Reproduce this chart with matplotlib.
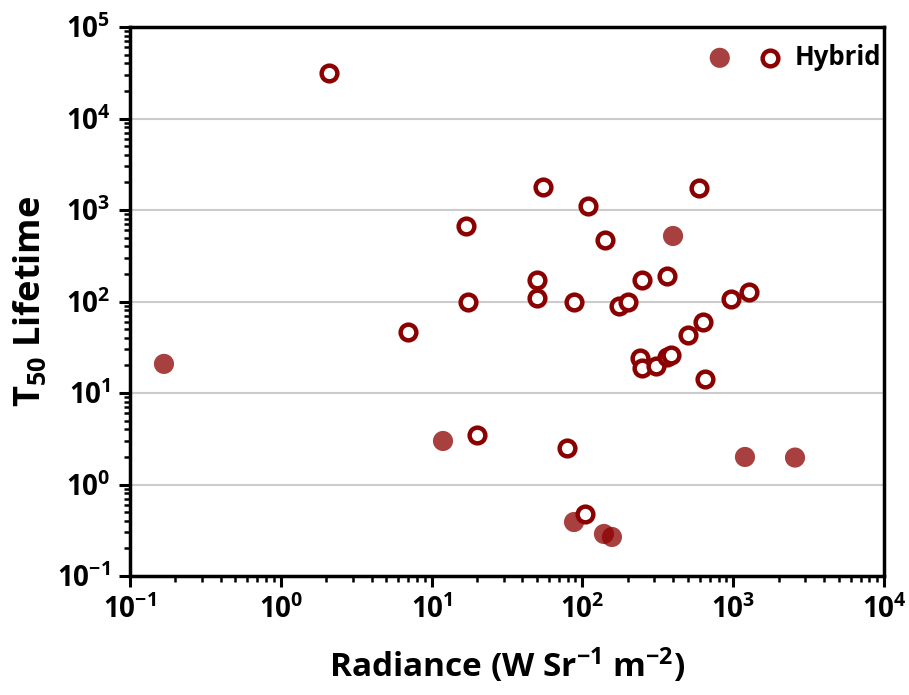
import matplotlib
matplotlib.use("Agg")
import matplotlib.pyplot as plt
from matplotlib.legend_handler import HandlerTuple
from matplotlib.ticker import LogLocator, NullFormatter

plt.rcParams['font.family'] = ['Open Sans', 'DejaVu Sans']
plt.rcParams['font.weight'] = 'bold'
plt.rcParams['mathtext.fontset'] = 'custom'
plt.rcParams['mathtext.rm'] = 'Open Sans:bold'
plt.rcParams['mathtext.bf'] = 'Open Sans:bold'
plt.rcParams['mathtext.it'] = 'Open Sans:bold'
plt.rcParams['mathtext.default'] = 'bf'

# Hollow markers (Hybrid)
hollow_x = [2.09, 54.8, 109, 593, 16.9, 141, 50, 50, 17.4, 88, 175, 200, 248, 364,
            966, 1273, 6.97, 631, 501, 241, 248, 307, 366, 386, 650, 20, 79, 104]
hollow_y = [31400, 1780, 1107, 1738, 668, 470, 172, 109, 100, 100, 89, 100, 172, 190,
            106, 127, 46, 59.7, 43, 24, 18.8, 19.7, 25, 26, 14.3, 3.5, 2.5, 0.48]

# Filled markers
filled_x = [0.168, 11.9, 399, 1197, 2570, 88, 139, 157]
filled_y = [20.8, 2.99, 520, 2.0, 1.97, 0.389, 0.288, 0.267]

legend_label = "Hybrid"
xlabel = "Radiance (W Sr$^{-1}$ m$^{-2}$)"
ylabel = "T$_{50}$ Lifetime"

red = '#8B0000'

fig = plt.figure(figsize=(9.09, 6.95), dpi=100)
ax = fig.add_axes([130/909, 1-576/695, (884-130)/909, (576-27)/695])

ax.set_xscale('log')
ax.set_yscale('log')
ax.set_xlim(0.1, 1e4)
ax.set_ylim(0.1, 1e5)

ax.grid(True, axis='y', which='major', color='#cccccc', linewidth=1.5, zorder=0)
ax.set_axisbelow(True)

f = ax.scatter(filled_x, filled_y, s=14.5**2, color=red, alpha=0.75,
               edgecolors='none', zorder=3)
h = ax.scatter(hollow_x, hollow_y, s=11.3**2, facecolors='white', edgecolors=red,
               linewidths=3.2, zorder=4)

leg = ax.legend([(f, h)], [legend_label], handler_map={tuple: HandlerTuple(ndivide=None, pad=1.1)},
                loc='upper right', bbox_to_anchor=(1.0, 0.9745), frameon=False,
                handlelength=2.8, borderaxespad=0.0, borderpad=0.1, handletextpad=0.55,
                prop={'family': 'Open Sans', 'weight': 'bold', 'size': 18.5})

for s in ax.spines.values():
    s.set_linewidth(2.5)
    s.set_color('black')

ax.xaxis.set_major_locator(LogLocator(base=10, numticks=10))
ax.xaxis.set_minor_locator(LogLocator(base=10, subs=range(2, 10), numticks=100))
ax.yaxis.set_major_locator(LogLocator(base=10, numticks=10))
ax.yaxis.set_minor_locator(LogLocator(base=10, subs=range(2, 10), numticks=100))
ax.xaxis.set_minor_formatter(NullFormatter())
ax.yaxis.set_minor_formatter(NullFormatter())

ax.tick_params(which='major', direction='out', length=8, width=2.2, labelsize=20, pad=6)
ax.tick_params(which='minor', direction='out', length=4.5, width=1.8)
ax.tick_params(axis='x', which='both', top=False)
ax.tick_params(axis='y', which='both', right=False)

ax.set_xlabel(xlabel, fontsize=24, fontweight='bold')
ax.xaxis.set_label_coords(0.5, -0.127)
ax.set_ylabel(ylabel, fontsize=26, fontweight='bold', labelpad=6)

fig.savefig('out.png', dpi=100)
